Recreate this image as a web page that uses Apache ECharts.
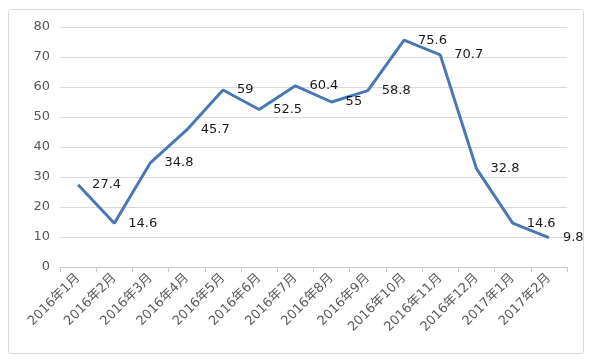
<!DOCTYPE html>
<html>
<head>
<meta charset="utf-8">
<script src="https://cdn.jsdelivr.net/npm/echarts@6/dist/echarts.min.js"></script>
<style>
html,body{margin:0;padding:0;background:#fff;}
#c{width:592px;height:361px;}
</style>
</head>
<body>
<div id="c"></div>
<script>
var categories = ['2016年1月','2016年2月','2016年3月','2016年4月','2016年5月','2016年6月','2016年7月','2016年8月','2016年9月','2016年10月','2016年11月','2016年12月','2017年1月','2017年2月'];
var values = [27.4, 14.6, 34.8, 45.7, 59, 52.5, 60.4, 55, 58.8, 75.6, 70.7, 32.8, 14.6, 9.8];
var yTicks = [0, 10, 20, 30, 40, 50, 60, 70, 80];

var chart = echarts.init(document.getElementById('c'));
chart.setOption({
  backgroundColor: '#fff',
  animation: false,
  graphic: [{
    type: 'rect',
    shape: {x: 8.5, y: 9.5, width: 575, height: 344, r: 2},
    style: {fill: 'none', stroke: '#d9d9d9', lineWidth: 1},
    silent: true
  }],
  grid: {left: 60, right: 25, top: 27, bottom: 94, containLabel: false},
  xAxis: {
    type: 'category',
    data: categories,
    boundaryGap: true,
    axisLine: {show: true, lineStyle: {color: '#c8c8c8', width: 1}},
    axisTick: {show: true, length: 5, lineStyle: {color: '#c8c8c8'}},
    axisLabel: {
      rotate: 45, interval: 0, color: '#595959', fontSize: 13, margin: 9,
      fontFamily: '"DejaVu Sans", "Noto Sans CJK SC", sans-serif'
    },
    splitLine: {show: false}
  },
  yAxis: {
    type: 'value',
    min: yTicks[0], max: yTicks[yTicks.length - 1], interval: 10,
    axisLine: {show: false},
    axisTick: {show: false},
    axisLabel: {color: '#595959', fontSize: 13, margin: 10, fontFamily: '"DejaVu Sans", "Noto Sans CJK SC", sans-serif'},
    splitLine: {show: true, lineStyle: {color: '#d9d9d9', width: 1}}
  },
  series: [{
    type: 'line',
    data: values,
    showSymbol: true,
    symbol: 'circle',
    symbolSize: 0,
    itemStyle: {color: '#4a78b4', opacity: 0},
    lineStyle: {color: '#4a78b4', width: 3, opacity: 1},
    label: {
      show: true, position: 'right', distance: 14, opacity: 1,
      color: '#1a1a1a', fontSize: 13, fontFamily: '"DejaVu Sans", "Noto Sans CJK SC", sans-serif'
    }
  }]
});
</script>
</body>
</html>
